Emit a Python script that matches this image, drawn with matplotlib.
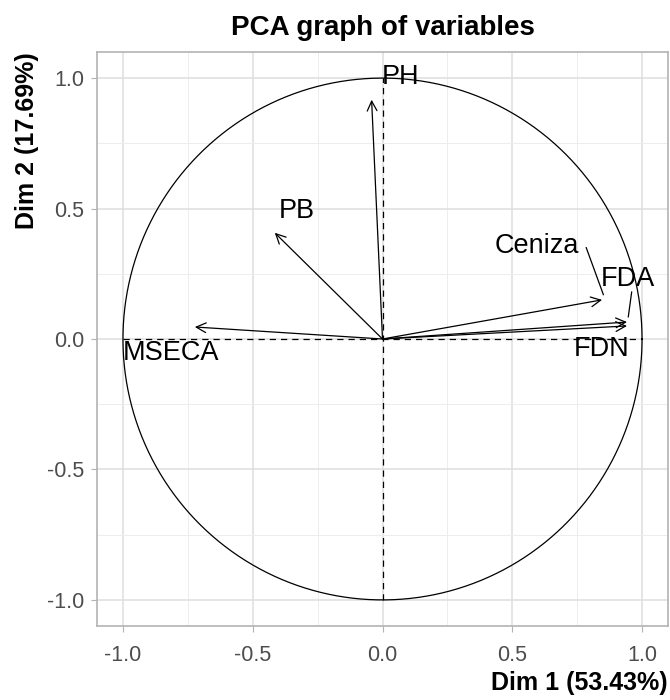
import numpy as np
import matplotlib
matplotlib.use("Agg")
import matplotlib.pyplot as plt

plt.rcParams['font.family'] = ['Liberation Sans', 'DejaVu Sans']

# coordinates of the variables on Dim 1 / Dim 2
variables = ["PH", "PB", "MSECA", "Ceniza", "FDA", "FDN"]
dim1 = [-0.042, -0.415, -0.723, 0.846, 0.942, 0.942]
dim2 = [0.917, 0.407, 0.046, 0.150, 0.065, 0.050]

# repelled label positions
label_x = [0.07, -0.33, -0.815, 0.593, 0.946, 0.845]
label_y = [1.005, 0.49, -0.054, 0.357, 0.23, -0.04]
# labels that got a leader segment back to their arrow
leader = {"Ceniza": (0.785, 0.35), "FDA": (0.96, 0.18)}

ticks = [-1.0, -0.5, 0.0, 0.5, 1.0]
minor = [-0.75, -0.25, 0.25, 0.75]

fig = plt.figure(figsize=(6.7, 7), dpi=100)
ax = fig.add_axes([97 / 670, 74 / 700, 571 / 670, 574 / 700])

ax.set_xlim(-1.1, 1.1)
ax.set_ylim(-1.1, 1.1)
ax.set_xticks(ticks)
ax.set_yticks(ticks)
ax.set_xticks(minor, minor=True)
ax.set_yticks(minor, minor=True)
ax.set_xticklabels([f"{t:.1f}" for t in ticks])
ax.set_yticklabels([f"{t:.1f}" for t in ticks])
ax.grid(which="major", color="#DEDEDE", lw=1.1)
ax.grid(which="minor", color="#EDEDED", lw=0.7)
ax.set_axisbelow(True)
ax.tick_params(which="major", length=4, width=0.8, color="#B3B3B3",
               labelcolor="#4D4D4D", labelsize=15.5)
ax.tick_params(axis="x", pad=10)
ax.tick_params(axis="y", pad=5)
ax.tick_params(which="minor", length=0)
for s in ax.spines.values():
    s.set_color("#B3B3B3")
    s.set_linewidth(1.2)

# correlation circle and axes through the origin
th = np.linspace(0, 2 * np.pi, 400)
ax.plot(np.cos(th), np.sin(th), color="black", lw=0.9)
ax.plot([-1, 1], [0, 0], color="black", lw=0.9, ls=(0, (5, 4)))
ax.plot([0, 0], [-1, 1], color="black", lw=0.9, ls=(0, (5, 4)))

for name, x, y, lx, ly in zip(variables, dim1, dim2, label_x, label_y):
    ax.annotate("", xy=(x, y), xytext=(0, 0),
                arrowprops=dict(arrowstyle="->,head_length=0.7,head_width=0.35",
                                color="black", lw=0.9, shrinkA=0, shrinkB=0))
    if name in leader:
        sx, sy = leader[name]
        ax.plot([sx, x + 0.005], [sy, y + 0.02], color="black", lw=0.9)
    ax.text(lx, ly, name, ha="center", va="center", fontsize=19.5, color="black")

ax.set_title("PCA graph of variables", fontsize=20, fontweight="bold", pad=12)
ax.set_xlabel("Dim 1 (53.43%)", fontsize=18, fontweight="bold", loc="right",
              labelpad=3)
ax.set_ylabel("Dim 2 (17.69%)", fontsize=18, fontweight="bold", loc="top",
              labelpad=6)

fig.savefig("out.png", dpi=100)
